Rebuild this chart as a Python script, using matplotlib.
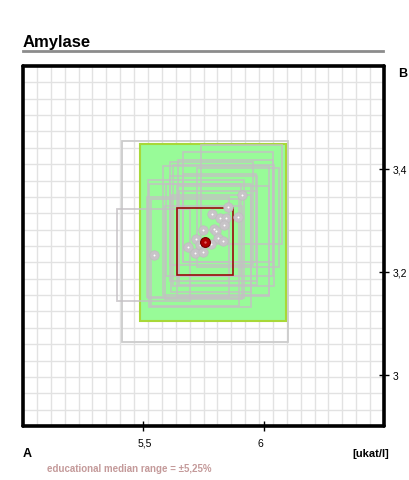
import numpy as np
import matplotlib
matplotlib.use('Agg')
import matplotlib.pyplot as plt
from matplotlib.patches import Rectangle
from matplotlib.lines import Line2D
import matplotlib.transforms as mtransforms

plt.rcParams['font.family'] = ['Liberation Sans', 'DejaVu Sans']

# lab results (A, B) and their own range in percent
lab_a = [5.909, 5.853, 5.784, 5.817, 5.842, 5.894, 5.834, 5.749, 5.792, 5.801,
         5.809, 5.831, 5.720, 5.781, 5.735, 5.685, 5.715, 5.749, 5.543]
lab_b = [3.350, 3.3255, 3.313, 3.305, 3.304, 3.306, 3.290, 3.281, 3.284, 3.280,
         3.266, 3.260, 3.264, 3.254, 3.251, 3.2475, 3.237, 3.238, 3.2325]
lab_pct = [2.85, 3.2, 3.0, 2.6, 3.4, 2.9, 3.6, 2.7, 3.1, 3.8,
           2.8, 3.3, 3.5, 2.9, 3.7, 3.0, 3.2, 2.8, 2.75]

# own result
own_a = 5.757
own_b = 3.2584
own_pct = 2.0
own_outer_pct = 6.0

# median and educational range
median_a = 5.79
median_b = 3.277
median_pct = 5.25

xticks = [5.5, 6]
xticklabels = ['5,5', '6']
yticks = [3.0, 3.2, 3.4]
yticklabels = ['3', '3,2', '3,4']

fig = plt.figure(figsize=(4.09, 4.81), dpi=100)
ax = fig.add_axes([23/409, 54/481, 361/409, 360/481])
ax.set_xlim(5.0, 6.5)
ax.set_ylim(2.9, 3.6)

# grid
for gx in np.linspace(0, 1, 27)[1:-1]:
    ax.axvline(5.0 + gx * 1.5, color='#e2e2e2', lw=1, zorder=0)
for gy in np.linspace(0, 1, 23)[1:-1]:
    ax.axhline(2.9 + gy * 0.7, color='#e2e2e2', lw=1, zorder=0)

def box(a, b, pct, **kw):
    da = a * pct / 100
    db = b * pct / 100
    return Rectangle((a - da, b - db), 2 * da, 2 * db, **kw)

# outer range of own result
ax.add_patch(box(own_a, own_b, own_outer_pct, fill=False, ec='#cccccc', lw=1.3, zorder=1))
# educational range
ax.add_patch(box(median_a, median_b, median_pct, fc='#98fb98', ec='#a8d838', lw=1.5, zorder=2))
# other labs
for a, b, p in zip(lab_a, lab_b, lab_pct):
    ax.add_patch(box(a, b, p, fill=False, ec='#c4c0c4', lw=1.3, alpha=0.8, zorder=3))
# own result range
ax.add_patch(box(own_a, own_b, own_pct, fill=False, ec='#9a0a0a', lw=1.2, zorder=4))

ax.scatter(lab_a, lab_b, s=46, c='#c8c4c8', edgecolors='#c0bcc0', lw=0.5, zorder=5)
ax.scatter(lab_a, lab_b, s=2, c='white', lw=0, zorder=6)
ax.scatter([own_a], [own_b], s=50, c='#b00000', edgecolors='#700000', lw=0.8, zorder=7)
ax.scatter([own_a], [own_b], s=3, c='#e06060', lw=0, zorder=8)

for s in ax.spines.values():
    s.set_linewidth(2.6)
    s.set_color('black')
    s.set_capstyle('round')

ax.set_xticks(xticks)
ax.set_xticklabels(xticklabels, fontsize=7.5)
ax.set_yticks(yticks)
ax.set_yticklabels(yticklabels, fontsize=7.5)
ax.yaxis.tick_right()
ax.tick_params(axis='x', direction='inout', length=7, width=1, pad=5)
ax.tick_params(axis='y', direction='inout', length=7, width=1, pad=3)
for lbl in ax.get_xticklabels():
    lbl.set_horizontalalignment('left')
    lbl.set_transform(lbl.get_transform() + mtransforms.ScaledTranslation(-6/100, 0, fig.dpi_scale_trans))

# title and labels
fig.text(23/409, 1 - 47/481, 'Amylase', fontsize=12, fontweight='bold', va='baseline')
fig.add_artist(Line2D([23/409, 383/409], [1 - 51.5/481, 1 - 51.5/481], color='#8c8c8c', lw=2))
fig.text(398/409, 1 - 77/481, 'B', fontsize=9, fontweight='bold', va='baseline')
fig.text(23/409, 1 - 457/481, 'A', fontsize=9, fontweight='bold', va='baseline')
fig.text(389/409, 1 - 457/481, '[ukat/l]', fontsize=8, fontweight='bold', va='baseline', ha='right')
fig.text(47/409, 1 - 472/481, 'educational median range = \u00b15,25%', fontsize=7,
         fontweight='bold', color='#c49a9a', va='baseline')

fig.savefig('out.png', dpi=100)
